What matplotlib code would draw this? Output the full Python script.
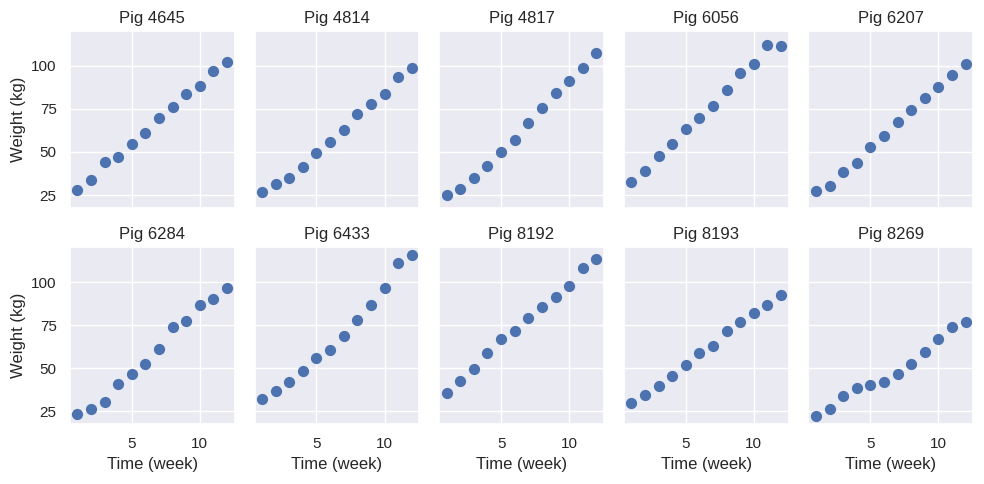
import matplotlib
matplotlib.use("Agg")
import matplotlib.pyplot as plt
import seaborn as sns

sns.set_theme(style="darkgrid")
plt.rcParams['font.family'] = ['Liberation Sans', 'DejaVu Sans']

weeks = list(range(1, 13))
pigs = ["4645", "4814", "4817", "6056", "6207",
        "6284", "6433", "8192", "8193", "8269"]

w4645 = [27.9, 33.6, 44.1, 46.8, 54.8, 61.1, 69.8, 76.0, 83.6, 88.2, 96.8, 102.3]
w4814 = [26.5, 31.3, 34.9, 41.4, 49.2, 55.7, 62.6, 72.1, 77.7, 83.8, 93.5, 98.5]
w4817 = [25.0, 28.2, 34.9, 41.8, 49.8, 56.7, 67.0, 75.8, 84.5, 91.0, 98.9, 107.3]
w6056 = [32.6, 38.9, 47.9, 54.6, 63.2, 70.0, 76.5, 86.1, 95.8, 101.3, 112.2, 111.8]
w6207 = [27.3, 30.5, 38.4, 43.3, 52.7, 59.2, 67.4, 74.2, 81.3, 87.6, 94.5, 101.3]
w6284 = [23.5, 26.3, 30.5, 40.8, 46.9, 52.5, 60.9, 73.7, 77.5, 87.0, 90.3, 96.6]
w6433 = [32.4, 36.6, 42.2, 48.5, 56.1, 60.5, 68.7, 77.9, 86.6, 96.8, 111.3, 115.6]
w8192 = [35.7, 42.6, 49.8, 58.8, 66.8, 71.6, 79.0, 85.7, 91.4, 97.9, 108.0, 113.2]
w8193 = [29.6, 34.4, 39.5, 45.6, 52.1, 59.0, 62.8, 71.8, 76.9, 81.9, 86.6, 92.4]
w8269 = [22.3, 26.5, 33.8, 38.4, 40.1, 41.8, 46.6, 52.7, 59.5, 66.8, 74.0, 77.1]

weights = [w4645, w4814, w4817, w6056, w6207, w6284, w6433, w8192, w8193, w8269]

fig, axes = plt.subplots(2, 5, figsize=(9.84, 4.84), sharex=True, sharey=True)
for ax, pig, w in zip(axes.flat, pigs, weights):
    ax.scatter(weeks, w, color="#4c72b0", s=50)
    ax.set_title("Pig " + pig)
for ax in axes[1]:
    ax.set_xlabel("Time (week)")
for ax in axes[:, 0]:
    ax.set_ylabel("Weight (kg)")
ax.set_yticks([25, 50, 75, 100])
ax.set_xticks([5, 10])
fig.subplots_adjust(left=0.071, right=0.989, top=0.936, bottom=0.124,
                    wspace=0.121, hspace=0.224)
fig.savefig("out.png", dpi=100)
